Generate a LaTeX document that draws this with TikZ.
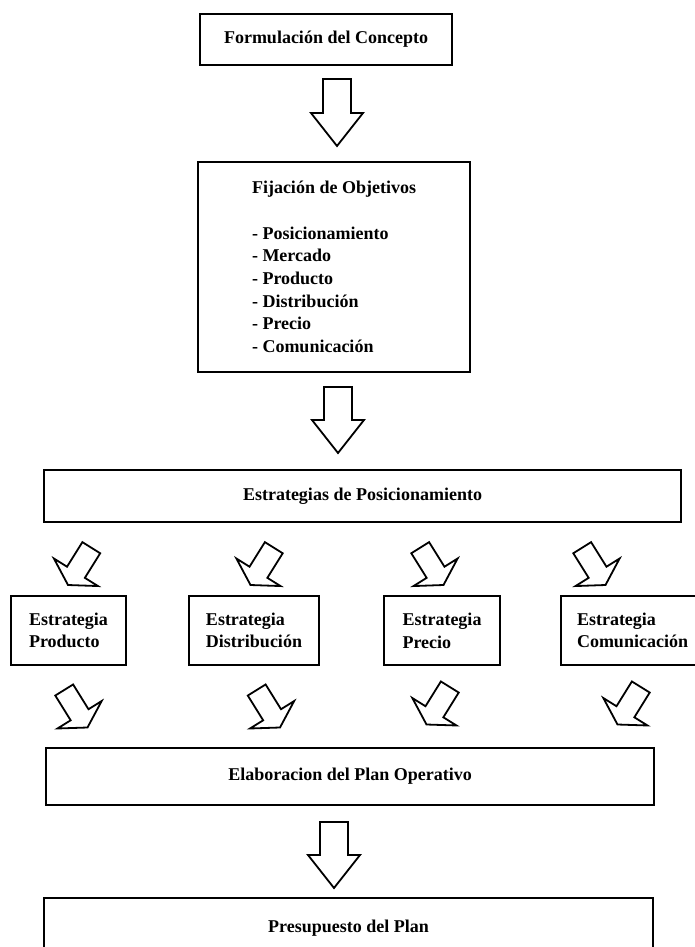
\documentclass[tikz,border=0pt]{standalone}
\usepackage{fontspec}
\setmainfont{Liberation Serif}
\usetikzlibrary{calc}

% block arrow: tail, tip, half shaft, half head, head length
\newcommand{\blockarrow}[5]{%
  \coordinate (ba-neck) at ($(#2)!#5!(#1)$);
  \draw[barrow] ($(#1)!#3!90:(#2)$) -- ($(ba-neck)!#3!90:(#2)$) -- ($(ba-neck)!#4!90:(#2)$)
    -- (#2) -- ($(ba-neck)!#4!-90:(#2)$) -- ($(ba-neck)!#3!-90:(#2)$) -- ($(#1)!#3!-90:(#2)$) -- cycle;
}
\newcommand{\mainarrow}[2]{\blockarrow{#1}{#2}{14pt}{26pt}{33pt}}
\newcommand{\tiltarrow}[2]{\blockarrow{#1}{#2}{10.5pt}{26pt}{15pt}}

\begin{document}
\begin{tikzpicture}[x=1pt, y=-1pt,
    box/.style={draw, line width=2.8pt, inner sep=0pt, align=center,
      font=\fontsize{18}{22.7}\selectfont\bfseries},
    sbox/.style={box, align=left, minimum height=69pt},
    barrow/.style={draw, fill=white, line width=1.8pt, line join=miter}
  ]
  \useasboundingbox (0,0) rectangle (694,947);

  % --- top column ---
  \node[box, minimum width=252pt, minimum height=51pt] (concepto) at (326,39.5) {Formulación del Concepto};
  \node[box, align=left, minimum width=272pt, minimum height=210pt] (objetivos) at (334,267)
    {Fijación de Objetivos\\[22.7pt]
     - Posicionamiento\\ - Mercado\\ - Producto\\ - Distribución\\ - Precio\\ - Comunicación};
  \node[box, minimum width=637pt, minimum height=52pt] (estrategias) at (362.5,496) {Estrategias de Posicionamiento};

  % --- four strategies ---
  \node[sbox, minimum width=115pt] (producto) at (68.5,630.5) {Estrategia\\Producto};
  \node[sbox, minimum width=130pt] (distribucion) at (254,630.5) {Estrategia\\Distribución};
  \node[sbox, minimum width=116pt] (precio) at (442,630.5) {Estrategia\\Precio};
  \node[sbox, minimum width=143pt] (comunicacion) at (632.5,630.5) {Estrategia\\Comunicación};

  % --- bottom column ---
  \node[box, minimum width=608pt, minimum height=57pt] (plan) at (350,776.5) {Elaboracion del Plan Operativo};
  \node[box, minimum width=609pt, minimum height=60pt] (presupuesto) at (348.5,928) {Presupuesto del Plan};

  % arrow ends
  \coordinate (f1) at (337,79);    \coordinate (f1t) at (337,146);
  \coordinate (f2) at (338,387);   \coordinate (f2t) at (338,453);
  \coordinate (f3) at (334,822);   \coordinate (f3t) at (334,888);
  \coordinate (e1) at (91.3,547.7);  \coordinate (e1t) at (68,585);
  \coordinate (e2) at (273.8,547.7); \coordinate (e2t) at (250.5,585);
  \coordinate (e3) at (420.2,547.7); \coordinate (e3t) at (443.5,585);
  \coordinate (e4) at (582.2,547.7); \coordinate (e4t) at (605.5,585);
  \coordinate (p1) at (64.2,690);    \coordinate (p1t) at (87.5,727.5);
  \coordinate (p2) at (256.7,690);   \coordinate (p2t) at (280,727.5);
  \coordinate (p3) at (449.8,687);   \coordinate (p3t) at (426.5,724.5);
  \coordinate (p4) at (640.8,687);   \coordinate (p4t) at (617.5,724.5);

  % arrows
  \mainarrow{f1}{f1t}
  \mainarrow{f2}{f2t}
  \foreach \a in {e1,e2,e3,e4,p1,p2,p3,p4}
    {\tiltarrow{\a}{\a t}}
  \mainarrow{f3}{f3t}
\end{tikzpicture}
\end{document}
